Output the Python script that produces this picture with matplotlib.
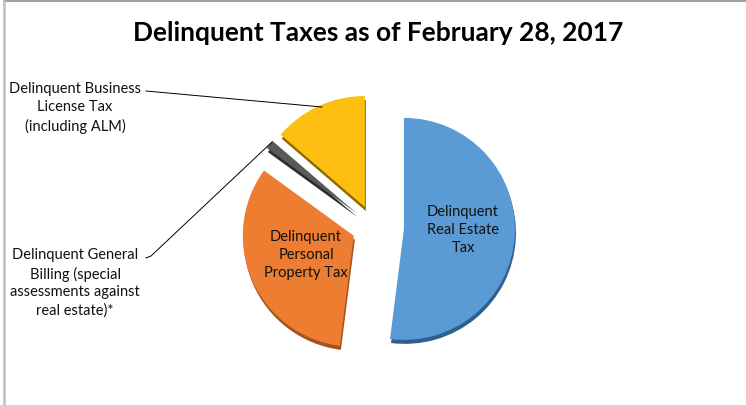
import matplotlib.pyplot as plt
import numpy as np

plt.rcParams['font.family'] = ['Lato', 'DejaVu Sans']

# delinquent tax shares (percent)
categories = ['Delinquent Real Estate Tax', 'Delinquent Personal Property Tax',
              'Delinquent General Billing', 'Delinquent Business License Tax']
shares = [52.0, 33.0, 1.3, 13.7]
colors = ['#5B9BD5', '#ED7D31', '#5a5a5a', '#FDC010']
shadow_colors = ['#2f5f8c', '#a4521c', '#2e2e2e', '#8c6a00']

W, H = 746, 406
fig = plt.figure(figsize=(W / 100, H / 100), dpi=100)
ax = fig.add_axes([0, 0, 1, 1])

cx, cy = 374, H - 228
r = 111
explode = [30, 22, 22, 22]

# fake depth: darker copy shifted down a little
ax.pie(shares, colors=shadow_colors, startangle=90, counterclock=False,
       explode=explode, radius=r, center=(cx + 1, cy - 4), frame=True,
       wedgeprops=dict(linewidth=0))
wedges, _ = ax.pie(shares, colors=colors, startangle=90, counterclock=False,
                   explode=explode, radius=r, center=(cx, cy), frame=True,
                   wedgeprops=dict(linewidth=0))

ax.set_xlim(0, W)
ax.set_ylim(0, H)
ax.set_aspect('equal')
ax.axis('off')

# labels inside the big slices
ax.text(463, H - 230, 'Delinquent\nReal Estate\nTax', ha='center', va='center',
        fontsize=10.5, linespacing=1.35, color='#111111')
ax.text(306, H - 255, 'Delinquent\nPersonal\nProperty Tax', ha='center', va='center',
        fontsize=10.5, linespacing=1.35, color='#111111')

# outside labels with leader lines
ax.text(75, H - 108, 'Delinquent Business\nLicense Tax\n(including ALM)',
        ha='center', va='center', fontsize=10.5, linespacing=1.35, color='#111111')
ax.plot([146, 322], [H - 92, H - 108], color='black', lw=0.7)
ax.text(75, H - 283, 'Delinquent General\nBilling (special\nassessments against\nreal estate)*',
        ha='center', va='center', fontsize=10.5, linespacing=1.35, color='#111111')
ax.plot([146, 151, 272], [H - 259, H - 257, H - 143], color='black', lw=0.7)

fig.text(378 / W, 1 - 33 / H, 'Delinquent Taxes as of February 28, 2017',
         ha='center', va='center', fontsize=19, fontweight='bold', color='black')

# chart frame (top and left edges only)
fig.add_artist(plt.Line2D([4 / W, 1], [1 - 2 / H, 1 - 2 / H], color='#8c8c8c', lw=1.2))
fig.add_artist(plt.Line2D([4 / W, 4 / W], [0, 1 - 2 / H], color='#bfbfbf', lw=1.8))

fig.savefig('out.png', dpi=100)
